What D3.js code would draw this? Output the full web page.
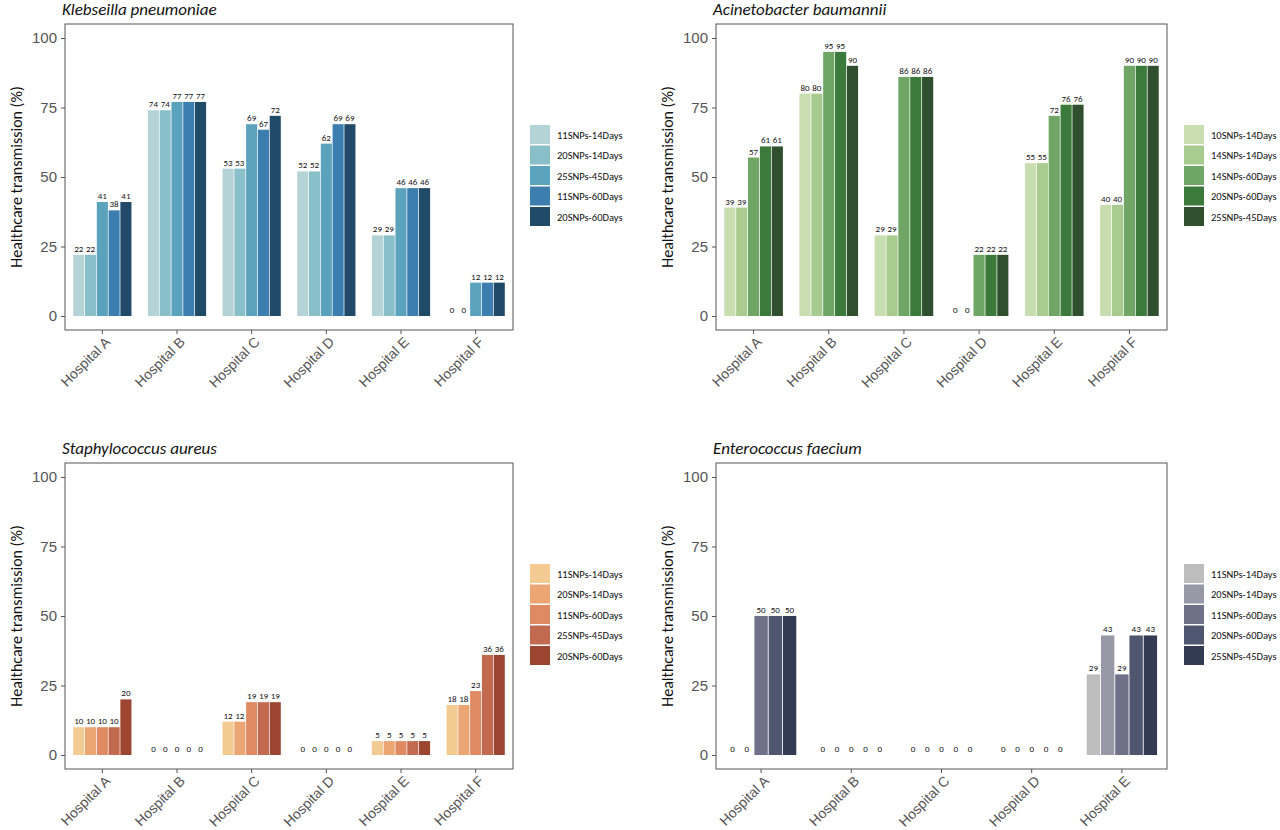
<!DOCTYPE html>
<html><head><meta charset="utf-8">
<script src="https://cdn.jsdelivr.net/npm/d3@7"></script>
<style>body{margin:0;background:#fff;font-family:Calibri,"Liberation Sans",Arial,sans-serif}</style>
</head><body><svg id="c" width="1280" height="830"></svg>
<script>
// panel data
var hospitals6 = ["Hospital A","Hospital B","Hospital C","Hospital D","Hospital E","Hospital F"];
var hospitals5 = ["Hospital A","Hospital B","Hospital C","Hospital D","Hospital E"];
var yTicks = [0,25,50,75,100];

var kpSeries = ["11SNPs-14Days","20SNPs-14Days","25SNPs-45Days","11SNPs-60Days","20SNPs-60Days"];
var kpValues = [[22,22,41,38,41],[74,74,77,77,77],[53,53,69,67,72],[52,52,62,69,69],[29,29,46,46,46],[0,0,12,12,12]];
var kpColors = ["#b3d3d6","#88bfc8","#5ba2bd","#3c7eb0","#214a68"];

var abSeries = ["10SNPs-14Days","14SNPs-14Days","14SNPs-60Days","20SNPs-60Days","25SNPs-45Days"];
var abValues = [[39,39,57,61,61],[80,80,95,95,90],[29,29,86,86,86],[0,0,22,22,22],[55,55,72,76,76],[40,40,90,90,90]];
var abColors = ["#c8ddb0","#a8cc8f","#6fa665","#3c7a3b","#2f4f2f"];

var saSeries = ["11SNPs-14Days","20SNPs-14Days","11SNPs-60Days","25SNPs-45Days","20SNPs-60Days"];
var saValues = [[10,10,10,10,20],[0,0,0,0,0],[12,12,19,19,19],[0,0,0,0,0],[5,5,5,5,5],[18,18,23,36,36]];
var saColors = ["#f3ca92","#eba673","#df8a62","#c26a50","#9c4530"];

var efSeries = ["11SNPs-14Days","20SNPs-14Days","11SNPs-60Days","20SNPs-60Days","25SNPs-45Days"];
var efValues = [[0,0,50,50,50],[0,0,0,0,0],[0,0,0,0,0],[0,0,0,0,0],[29,43,29,43,43]];
var efColors = ["#bdbdbd","#9899a6","#6e7187","#4f5670","#323b52"];

var svg = d3.select("#c");

function panel(o) {
    var g = svg.append("g");
    var x = d3.scaleBand().domain(o.cats).range([o.x0, o.x1]).paddingInner(0.22).paddingOuter(0.11);
    var xi = d3.scaleBand().domain(d3.range(5)).range([0, x.bandwidth()]).paddingInner(0.06);
    var y = d3.scaleLinear().domain([0,100]).range([o.yb - 14, o.yt + 14]);

    g.append("text").attr("x", o.x0 - 3).attr("y", o.yt - 9).attr("font-size", 17)
        .attr("font-style", "italic").attr("fill", "#111").text(o.title);

    o.values.forEach(function (vals, i) {
        var gg = g.append("g").attr("transform", "translate(" + x(o.cats[i]) + ",0)");
        vals.forEach(function (v, j) {
            gg.append("rect").attr("x", xi(j)).attr("width", xi.bandwidth())
                .attr("y", y(v)).attr("height", y(0) - y(v)).attr("fill", o.colors[j]);
            gg.append("text").attr("x", xi(j) + xi.bandwidth() / 2).attr("y", y(v) - 3)
                .attr("text-anchor", "middle").attr("font-size", 9).attr("fill", "#111").text(v);
        });
    });

    g.append("rect").attr("x", o.x0).attr("y", o.yt).attr("width", o.x1 - o.x0).attr("height", o.yb - o.yt)
        .attr("fill", "none").attr("stroke", "#555").attr("stroke-width", 1);

    var ya = g.append("g").attr("transform", "translate(" + o.x0 + ",0)")
        .call(d3.axisLeft(y).tickValues(yTicks).tickSize(4).tickPadding(4));
    ya.select(".domain").remove();
    ya.selectAll("text").attr("font-size", 15).attr("fill", "#555").style("font-family", "inherit");
    ya.selectAll("line").attr("stroke", "#555");

    var xa = g.append("g").attr("transform", "translate(0," + o.yb + ")")
        .call(d3.axisBottom(x).tickSize(4));
    xa.select(".domain").remove();
    xa.selectAll("line").attr("stroke", "#555");
    xa.selectAll("text").attr("font-size", 14).attr("fill", "#555").style("font-family", "inherit")
        .attr("text-anchor", "end").attr("dx", "-0.2em").attr("dy", "0.6em")
        .attr("transform", "rotate(-45)");

    g.append("text").attr("transform", "translate(" + (o.x0 - 43) + "," + ((o.yt + o.yb) / 2) + ") rotate(-90)")
        .attr("text-anchor", "middle").attr("font-size", 16).attr("fill", "#111")
        .text("Healthcare transmission (%)");

    var lg = g.append("g").attr("transform", "translate(" + (o.x1 + 17) + "," + ((o.yt + o.yb) / 2 - 52) + ")");
    o.series.forEach(function (s, j) {
        lg.append("rect").attr("x", 0).attr("y", j * 20.5).attr("width", 20).attr("height", 19).attr("fill", o.colors[j]);
        lg.append("text").attr("x", 27).attr("y", j * 20.5 + 13.5).attr("font-size", 10.5)
            .attr("fill", "#111").text(s);
    });
}

panel({title: "Klebseilla pneumoniae", cats: hospitals6, values: kpValues, series: kpSeries, colors: kpColors,
       x0: 65, x1: 513, yt: 24, yb: 330});
panel({title: "Acinetobacter baumannii", cats: hospitals6, values: abValues, series: abSeries, colors: abColors,
       x0: 716, x1: 1167, yt: 24, yb: 330});
panel({title: "Staphylococcus aureus", cats: hospitals6, values: saValues, series: saSeries, colors: saColors,
       x0: 65, x1: 513, yt: 463, yb: 769});
panel({title: "Enterococcus faecium", cats: hospitals5, values: efValues, series: efSeries, colors: efColors,
       x0: 716, x1: 1167, yt: 463, yb: 769});
</script></body></html>
